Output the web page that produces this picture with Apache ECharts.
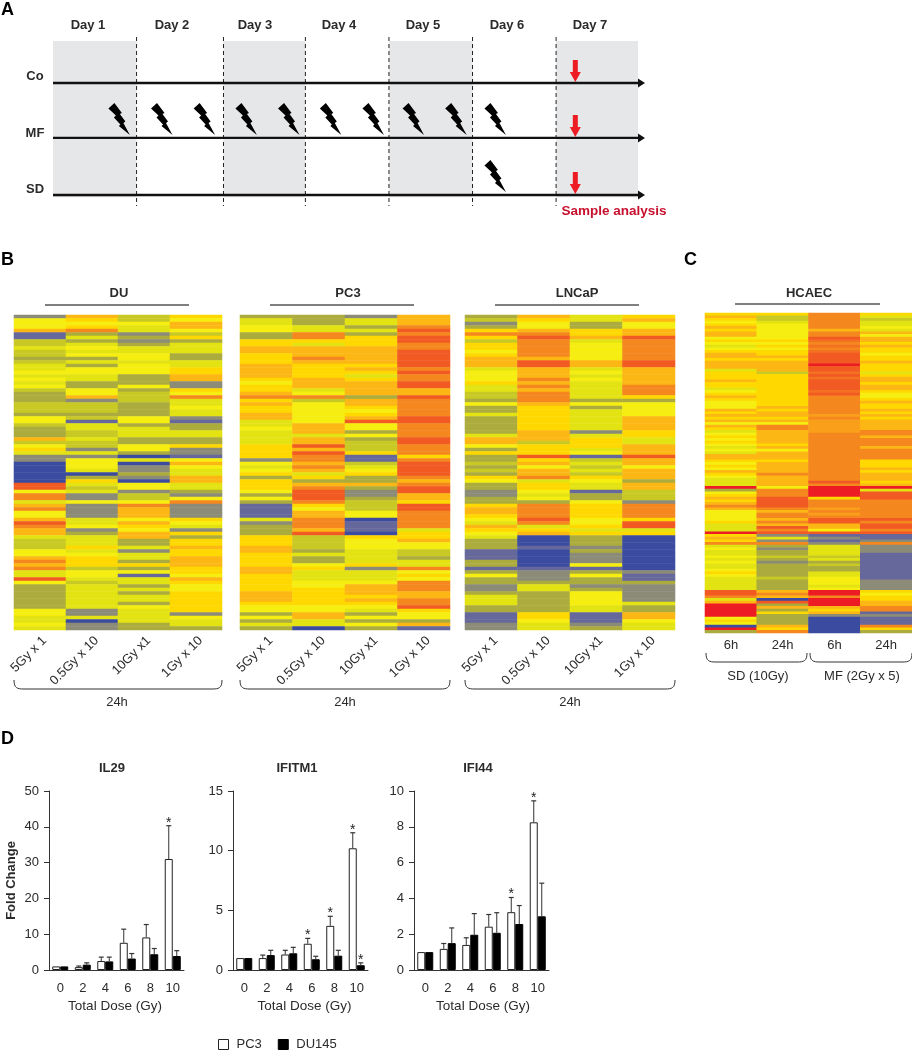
<!DOCTYPE html>
<html>
<head>
<meta charset="utf-8">
<style>html,body{margin:0;padding:0;background:#fff}#c{width:912px;height:1050px;filter:blur(0.55px)}</style>
<script src="https://cdn.jsdelivr.net/npm/echarts@6/dist/echarts.min.js"></script>
</head>
<body>
<div id="c"></div>
<script>
// ---------- Panel A (schedule, in days / arms) ----------
const days = ['Day 1','Day 2','Day 3','Day 4','Day 5','Day 6','Day 7'];
const arms = ['Co','MF','SD'];
const armLevels = [0,0.98,2];
const dayEdges = [1,2.04,3.02,4.02,5.02,6.02];
const grayBands = [[0,1],[2.04,3.02],[4.02,5.02],[6.02,7]];
const mfDoses = [0.92,1.43,1.94,2.44,2.95,3.45,3.96,4.44,4.95,5.42];
const sdDoses = [5.42];
const sampleDay = 6.25;

// ---------- Panels B, C (expression level codes per row) ----------
const heatStops = ['#3B4CA0','#66689B','#8B8B78','#ACAC3E','#C9C926','#E3E314','#F6EE10','#FFD800','#FDB714','#F5871F','#F15A22','#ED1C24'];
const bCols = ['5Gy x 1','0.5Gy x 10','10Gy x1','1Gy x 10'];
const cCols = ['6h','24h','6h ','24h '];

const duA = [2,6,6,6,8,1,1,4,4,5, 4,4,3,4,5,5,6,5,6,5, 6,4,3,3,3,4,4,4,3,6, 6,4,3,3,3,8,4,6,7,5, 2,2,0,0,0,0,0,0,10,10, 6,9,9,5,8,9,6,6,8,10, 9,8,8,5,4,4,4,6,6,8, 9,8,9,5,5,10,6,3,3,3, 3,3,3,3,6,6,5,5,6,5];
const duB = [8,7,6,7,9,3,5,3,5,6, 5,6,3,5,3,6,6,5,5,3, 3,6,6,8,2,4,4,4,3,4, 1,5,5,4,4,5,4,4,2,5, 2,6,6,6,5,0,3,7,5,4, 5,2,2,6,2,2,2,2,5,5, 6,2,3,5,5,5,7,5,6,7, 7,7,4,6,6,5,4,5,5,5, 5,5,5,5,2,2,5,0,2,2];
const duC = [4,4,6,5,5,2,3,2,3,5, 5,6,6,5,6,6,6,3,3,3, 6,3,4,4,4,3,3,3,3,6, 6,3,5,5,5,3,3,6,6,3, 0,5,0,2,2,3,2,0,6,6, 2,4,4,6,9,8,8,8,6,8, 7,6,8,8,3,3,5,2,5,5, 3,7,3,6,1,5,5,3,5,3, 5,5,3,6,5,5,5,5,3,3];
const duD = [7,6,8,8,6,4,7,3,5,5, 5,3,3,5,5,7,7,8,8,2, 2,7,6,9,5,5,6,5,5,2, 1,3,3,5,5,3,3,7,2,2, 1,6,8,6,5,5,8,8,5,5, 3,2,6,9,2,2,2,2,7,6, 5,2,7,3,7,7,8,7,7,8, 8,8,7,7,6,8,7,6,6,7, 7,7,7,7,7,2,6,5,5,3];

const pcA = [3,5,5,6,6,3,3,7,7,8, 8,7,7,7,8,8,8,8,7,6, 7,7,8,9,7,8,7,7,8,8, 5,5,6,5,5,5,5,7,7,7, 7,2,6,5,6,7,3,7,7,7, 6,3,6,3,1,1,1,1,5,2, 3,3,3,7,7,7,8,8,7,7, 7,7,8,8,7,7,7,7,7,8, 8,8,7,6,6,3,6,3,5,3];
const pcB = [3,3,3,5,5,9,9,7,5,8, 8,8,9,8,7,7,7,7,8,8, 8,5,6,9,4,6,6,6,6,6, 6,8,8,8,5,8,8,10,8,10, 9,9,8,9,8,5,7,3,8,9, 10,10,10,9,7,6,8,8,9,9, 9,8,10,4,4,4,4,3,5,3, 3,6,7,5,5,5,6,6,7,7, 7,7,7,6,6,8,8,5,5,0];
const pcC = [2,5,5,3,5,3,7,7,7,8, 8,8,8,8,7,8,7,5,7,8, 8,8,8,3,8,8,7,6,7,8, 10,6,6,3,6,3,4,4,4,7, 1,1,4,5,6,7,3,3,8,3, 2,2,3,4,4,4,6,6,0,1, 1,1,0,7,6,6,6,5,5,5, 5,7,2,5,5,5,6,8,8,8, 7,8,7,6,5,3,6,3,6,3];
const pcD = [8,8,8,9,10,9,10,10,9,9, 10,10,10,10,10,9,10,9,9,10, 10,8,8,10,9,9,9,9,9,10, 10,9,9,9,9,10,10,9,9,9, 7,9,10,10,10,10,9,8,9,10, 10,8,8,7,10,10,9,9,9,9, 9,5,7,7,8,6,6,4,4,3, 5,5,9,6,7,6,9,9,9,8, 8,9,9,10,7,6,6,3,8,1];

const lnA = [3,4,2,3,7,9,7,4,7,7, 6,7,8,8,8,5,6,6,6,7, 5,5,4,4,3,6,3,3,5,3, 3,3,3,3,5,8,8,6,3,7, 3,3,4,3,4,3,7,6,3,3, 2,2,3,3,7,8,8,7,6,5, 8,7,6,5,3,3,3,1,1,1, 3,3,1,3,6,3,3,2,2,3, 5,5,5,3,3,1,1,1,2,2];
const lnB = [8,7,6,6,8,9,10,9,9,9, 9,9,8,10,10,8,8,8,9,8, 9,8,9,9,9,8,7,7,7,7, 7,7,7,8,8,8,4,7,7,7, 10,7,8,6,8,8,9,5,7,7, 6,5,6,3,9,9,9,9,10,9, 5,7,8,0,0,0,1,0,0,0, 0,0,1,2,2,2,3,5,5,3, 3,3,3,3,3,7,7,6,5,5];
const lnC = [5,5,3,3,7,7,8,5,6,6, 6,6,6,8,8,5,6,5,6,5, 5,5,5,5,3,6,3,5,5,5, 5,5,5,2,5,7,7,7,5,6, 1,4,5,4,5,4,7,6,5,5, 1,3,3,6,7,7,7,7,6,6, 7,5,7,3,3,3,2,3,2,2, 2,6,1,3,6,3,3,2,3,6, 6,6,6,5,5,1,1,1,2,3];
const lnD = [7,8,6,6,8,8,10,9,9,9, 9,9,9,10,10,8,8,8,8,8, 9,9,9,7,3,6,6,6,6,8, 8,8,8,7,7,5,5,8,8,8, 10,8,8,6,8,8,8,3,8,8, 4,4,4,2,9,9,9,9,7,10, 10,5,7,0,0,0,0,0,0,0, 0,0,0,2,1,1,3,2,2,2, 2,2,5,3,3,8,8,6,5,5];

const hcA = [7,8,7,6,7,8,7,8,8,6, 7,6,5,6,7,8,8,7,8,8, 8,5,7,7,7,8,7,7,5,6, 7,8,7,6,6,6,8,7,8,7, 8,6,8,7,5,6,7,6,7,6, 5,6,5,8,8,7,6,7,6,8, 7,6,5,5,5,11,3,6,7,8, 7,8,9,8,6,6,6,6,7,5, 5,5,11,7,8,7,9,5,6,5, 5,6,5,6,5,5,6,7,6,5, 5,5,5,5,10,10,9,5,8,11, 11,11,11,11,6,7,6,0,11,3];
const hcB = [7,4,4,5,6,6,6,6,6,6, 7,6,7,6,7,7,8,7,8,8, 8,8,4,7,7,7,7,7,7,7, 7,7,7,7,7,8,7,8,8,7, 8,6,9,9,8,8,8,8,8,7, 8,6,8,8,8,7,8,8,8,8, 9,8,8,8,8,6,9,9,9,10, 10,10,10,9,8,9,9,8,9,8, 10,9,10,2,5,2,9,3,2,3, 3,4,3,2,3,3,3,3,3,4, 3,3,3,3,8,9,8,0,10,3, 8,3,7,3,3,3,3,8,7,9];
const hcC = [9,9,9,9,9,9,8,9,9,10, 9.5,9,9.5,9,9.5,10,10,10,10,11, 10,10,9.5,10,9.5,10,10,10,10,9.5, 10,9,9,9,9,9,9,9,8.5,9, 8.5,8.5,8.5,8.5,8.5,9,9,9,9,9, 9,9,9,9,9,9,9,9,9,9, 9,9,9,10,9,11,11,11,11,7, 9,9,9,8.5,9,8.5,9,10,10,8, 8,6,10,1,2,1,2,5,5,5, 5,4,5,3,4,3,3,5,5,6, 6,6,5,6,11,11,9,11,11,11, 8,7,8,2,0,0,0,0,0,0];
const hcD = [7,5,4,5,5,6,5,8,6,8, 8,7,8,7,7,6,7,7,8,7, 7,7,5,7,8,8,7,8,8,7, 6,6,7,8,7,7,8,7,8,7, 8,8,8,8,9,9,8,9,9,9, 8,9,9,9,9,7,7,7,8,7, 8,8,8,7,8,11,5,10,10,10, 9,9,9,9,9,9,9,10,9,10, 10,9,10,1,1,2,9,2,2,2, 1,1,1,1,1,1,1,1,1,1, 2,2,2,2,7,6,7,7,8,8, 9,9,1,2,1,1,1,9,7,3];

// ---------- Panel D ----------
const doses = ['0','2','4','6','8','10'];
const il29Pc3  = [1.0,0.8,2.5,7.6,9.1,31];
const il29Pc3Top = [1.0,1.1,3.6,11.4,12.7,40.3];
const il29Du  = [1.0,1.5,2.4,3.2,4.4,3.9];
const il29DuTop = [1.0,2.0,3.6,4.6,6.0,5.4];
const il29Pc3Star = [0,0,0,0,0,1];
const il29DuStar = [0,0,0,0,0,0];
const ifitmPc3 = [1.0,1.0,1.3,2.2,3.7,10.2];
const ifitmPc3Top = [1.0,1.25,1.65,2.65,4.5,11.5];
const ifitmDu = [1.0,1.25,1.4,0.9,1.2,0.4];
const ifitmDuTop = [1.0,1.65,1.9,1.15,1.65,0.6];
const ifitmPc3Star = [0,0,0,1,1,1];
const ifitmDuStar = [0,0,0,0,0,1];
const ifiPc3 = [1.0,1.18,1.4,2.42,3.23,8.25];
const ifiPc3Top = [1.0,1.48,1.8,3.1,4.05,9.45];
const ifiDu = [1.0,1.5,1.97,2.08,2.57,3.0];
const ifiDuTop = [1.0,2.35,3.15,3.2,3.6,4.85];
const ifiPc3Star = [0,0,0,0,1,1];
const ifiDuStar = [0,0,0,0,0,0];

const FF = '"Liberation Sans", Arial, sans-serif';
const TXT = '#2b2b2b';

const grid = [], xAxis = [], yAxis = [], series = [], graphic = [];

function addText(text,x,y,o){
  o=o||{};
  graphic.push({type:'text',x:x,y:y,rotation:o.rot||0,silent:true,z:50,style:{text:text,fontFamily:FF,fontSize:o.size||13,fontWeight:o.bold?'bold':'normal',fill:o.fill||TXT,align:o.align||'center',verticalAlign:'middle'}});
}
function addRule(x1,x2,y){
  graphic.push({type:'line',silent:true,z:50,shape:{x1:x1,y1:y,x2:x2,y2:y},style:{stroke:'#555',lineWidth:1.4}});
}
function addBracket(x1,x2,yTop,yBot){
  const r=10, s={stroke:'#333',lineWidth:1,fill:'none'};
  graphic.push({type:'bezierCurve',silent:true,z:50,shape:{x1:x1,y1:yTop,cpx1:x1,cpy1:yBot-1,cpx2:x1+3,cpy2:yBot,x2:x1+r,y2:yBot},style:s});
  graphic.push({type:'line',silent:true,z:50,shape:{x1:x1+r,y1:yBot,x2:x2-r,y2:yBot},style:{stroke:'#333',lineWidth:1}});
  graphic.push({type:'bezierCurve',silent:true,z:50,shape:{x1:x2-r,y1:yBot,cpx1:x2-3,cpy1:yBot,cpx2:x2,cpy2:yBot-1,x2:x2,y2:yTop},style:s});
}

// ----- Panel A -----
(function(){
  const left=53, right=645, top=37, bottom=206;
  const pxPerDay=(638-53)/7, yPerArm=56, y0=83;
  grid.push({left:left,top:top,width:right-left,height:bottom-top,outerBoundsMode:'none'});
  xAxis.push({type:'value',gridIndex:0,min:0,max:(right-left)/pxPerDay,show:false});
  yAxis.push({type:'value',gridIndex:0,min:(top-y0)/yPerArm,max:(bottom-y0)/yPerArm,inverse:true,show:false});
  const yMin=(top-y0)/yPerArm, yMax=(bottom-y0)/yPerArm;
  const base={type:'custom',coordinateSystem:'cartesian2d',xAxisIndex:0,yAxisIndex:0,silent:true,animation:false,clip:false};
  series.push(Object.assign({},base,{z:1,data:grayBands,encode:{x:[0,1]},renderItem:function(p,api){
    const a=api.coord([api.value(0),-0.75]), b=api.coord([api.value(1),2.04]);
    return {type:'rect',shape:{x:a[0],y:a[1],width:b[0]-a[0],height:b[1]-a[1]},style:{fill:'#E6E7E8'}};
  }}));
  series.push(Object.assign({},base,{z:2,data:dayEdges.map(d=>[d]),encode:{x:0},renderItem:function(p,api){
    const a=api.coord([api.value(0),yMin]), b=api.coord([api.value(0),yMax]);
    return {type:'line',shape:{x1:a[0],y1:a[1],x2:b[0],y2:b[1]},style:{stroke:'#222',lineWidth:1,lineDash:[4,3]}};
  }}));
  series.push(Object.assign({},base,{z:3,data:armLevels.map(v=>[7,v]),encode:{x:0,y:1},renderItem:function(p,api){
    const a=api.coord([0,api.value(1)]), b=api.coord([api.value(0),api.value(1)]);
    const tip=[b[0]+7,b[1]];
    return {type:'group',children:[
      {type:'line',shape:{x1:a[0],y1:a[1],x2:tip[0]-4,y2:a[1]},style:{stroke:'#111',lineWidth:2.4}},
      {type:'polygon',shape:{points:[[tip[0],tip[1]],[tip[0]-7,tip[1]-4.5],[tip[0]-7,tip[1]+4.5]]},style:{fill:'#111'}}
    ]};
  }}));
  const boltShape=[[-21.5,-26.5],[-15.5,-32],[-8,-22],[-10,-21],[-4.5,-13.5],[-6.5,-12],[0,0],[-11,-9],[-9.5,-10.5],[-16,-17.5],[-14,-19.5]];
  const boltData=mfDoses.map(d=>[d,armLevels[1]]).concat(sdDoses.map(d=>[d,armLevels[2]]));
  series.push(Object.assign({},base,{z:4,data:boltData,encode:{x:0,y:1},renderItem:function(p,api){
    const c=api.coord([api.value(0),api.value(1)]);
    const tx=c[0], ty=c[1]-3;
    return {type:'polygon',shape:{points:boltShape.map(q=>[tx+q[0],ty+q[1]])},style:{fill:'#000'}};
  }}));
  series.push(Object.assign({},base,{z:5,data:armLevels.map(v=>[sampleDay,v]),encode:{x:0,y:1},renderItem:function(p,api){
    const c=api.coord([api.value(0),api.value(1)]);
    const x=c[0], tip=c[1]-1;
    return {type:'polygon',shape:{points:[[x,tip],[x-5.5,tip-10],[x-2.5,tip-10],[x-2.5,tip-22],[x+2.5,tip-22],[x+2.5,tip-10],[x+5.5,tip-10]]},style:{fill:'#ED1C24'}};
  }}));
  const dayX=[88,172,255,339,423,507,590];
  days.forEach((d,i)=>addText(d,dayX[i],25,{bold:true}));
  const armY=[76,133,189];
  arms.forEach((a,i)=>addText(a,35,armY[i],{bold:true}));
  addText('Sample analysis',614,211,{bold:true,fill:'#C8102E',size:13.5});
})();

// ----- Panels B, C -----
const heatPanels=[
  {title:'DU',cx:119,rule:[45,189],x:14,w:208,top:315,h:315,cols:[duA,duB,duC,duD],names:bCols,rot:45},
  {title:'PC3',cx:348,rule:[270,414],x:240,w:210,top:315,h:315,cols:[pcA,pcB,pcC,pcD],names:bCols,rot:45},
  {title:'LNCaP',cx:577,rule:[495,639],x:465,w:210,top:315,h:315,cols:[lnA,lnB,lnC,lnD],names:bCols,rot:45},
  {title:'HCAEC',cx:809,rule:[735,880],x:705,w:207,top:313,h:320,cols:[hcA,hcB,hcC,hcD],names:cCols,rot:0}
];
const heatSeriesIdx=[];
heatPanels.forEach(function(p){
  const gi=grid.length;
  grid.push({left:p.x,top:p.top,width:p.w,height:p.h,outerBoundsMode:'none'});
  xAxis.push({type:'category',gridIndex:gi,data:p.names,axisLine:{show:false},axisTick:{show:false},splitLine:{show:false},
    axisLabel:p.rot
      ?{rotate:p.rot,margin:4,verticalAlign:'top',fontFamily:FF,fontSize:13,color:TXT,interval:0}
      :{margin:6,fontFamily:FF,fontSize:13,color:TXT,interval:0,formatter:v=>v.trim()}});
  yAxis.push({type:'category',gridIndex:gi,data:p.cols[0].map((v,i)=>i),inverse:true,show:false});
  const data=[];
  p.cols.forEach((col,c)=>col.forEach((v,r)=>data.push([c,r,v])));
  heatSeriesIdx.push(series.length);
  series.push({type:'heatmap',xAxisIndex:gi,yAxisIndex:gi,data:data,silent:true,animation:false,progressive:0,itemStyle:{borderWidth:0}});
  addText(p.title,p.cx,293,{bold:true});
  addRule(p.rule[0],p.rule[1],p.title==='HCAEC'?304:305);
});
[[14,222,117],[240,450,345],[465,675,570]].forEach(function(b){
  addBracket(b[0],b[1],680,689);
  addText('24h',b[2],702);
});
addBracket(706,807,653,662);
addBracket(810,912,653,662);
addText('SD (10Gy)',758,676);
addText('MF (2Gy x 5)',862,676);

// ----- Panel D -----
const barPanels=[
  {title:'IL29',tx:112,left:49,max:50,step:10,pad:[0,3,0,0],a:il29Pc3,aTop:il29Pc3Top,aStar:il29Pc3Star,b:il29Du,bTop:il29DuTop,bStar:il29DuStar,yName:'Fold Change'},
  {title:'IFITM1',tx:297,left:233,max:15,step:5,pad:[0,0,0,8],a:ifitmPc3,aTop:ifitmPc3Top,aStar:ifitmPc3Star,b:ifitmDu,bTop:ifitmDuTop,bStar:ifitmDuStar},
  {title:'IFI44',tx:478,left:414,max:10,step:2,pad:[0,0,0,3],a:ifiPc3,aTop:ifiPc3Top,aStar:ifiPc3Star,b:ifiDu,bTop:ifiDuTop,bStar:ifiDuStar}
];
function errorSeries(gi,vals,tops,stars,sign){
  return {type:'custom',coordinateSystem:'cartesian2d',xAxisIndex:gi,yAxisIndex:gi,silent:true,animation:false,z:6,
    data:vals.map((v,i)=>[i,v,tops[i],stars[i]]),encode:{x:0,y:[1,2]},
    renderItem:function(p,api){
      const c=api.coord([api.value(0),api.value(1)]), t=api.coord([api.value(0),api.value(2)]);
      const x=c[0]+sign*4;
      const kids=[];
      if(api.value(2)>api.value(1)){
        kids.push({type:'line',shape:{x1:x,y1:c[1],x2:x,y2:t[1]},style:{stroke:'#333',lineWidth:1}});
        kids.push({type:'line',shape:{x1:x-2.5,y1:t[1],x2:x+2.5,y2:t[1]},style:{stroke:'#333',lineWidth:1.2}});
      }
      if(api.value(3)){
        kids.push({type:'text',x:x,y:t[1]-10,style:{text:'*',fontFamily:FF,fontSize:14,fill:'#222',align:'center',verticalAlign:'top'}});
      }
      return {type:'group',children:kids};
    }};
}
barPanels.forEach(function(p){
  const gi=grid.length;
  grid.push({left:p.left,top:791,width:135,height:179,outerBoundsMode:'none'});
  xAxis.push({type:'category',gridIndex:gi,data:doses,name:'Total Dose (Gy)',nameLocation:'middle',nameGap:29,nameMoveOverlap:false,
    nameTextStyle:{fontFamily:FF,fontSize:13.5,color:TXT,padding:p.pad},
    axisLine:{lineStyle:{color:'#333',width:1}},axisTick:{alignWithLabel:true,length:4,lineStyle:{color:'#333'}},
    axisLabel:{fontFamily:FF,fontSize:13,color:TXT,margin:12,interval:0},splitLine:{show:false}});
  yAxis.push({type:'value',gridIndex:gi,min:0,max:p.max,interval:p.step,
    name:p.yName||'',nameLocation:'middle',nameGap:31,nameMoveOverlap:false,nameTextStyle:{fontFamily:FF,fontSize:13,fontWeight:'bold',color:TXT},
    axisLine:{show:true,lineStyle:{color:'#333',width:1}},axisTick:{show:true,length:5,lineStyle:{color:'#333'}},
    axisLabel:{fontFamily:FF,fontSize:13,color:TXT,margin:10},splitLine:{show:false}});
  series.push({name:'PC3',type:'bar',xAxisIndex:gi,yAxisIndex:gi,data:p.a,barWidth:8,barGap:0,silent:true,animation:false,
    itemStyle:{color:'#fff',borderColor:'#222',borderWidth:1}});
  series.push({name:'DU145',type:'bar',xAxisIndex:gi,yAxisIndex:gi,data:p.b,barWidth:8,barGap:0,silent:true,animation:false,
    itemStyle:{color:'#000',borderColor:'#000',borderWidth:1}});
  series.push(errorSeries(gi,p.a,p.aTop,p.aStar,-1));
  series.push(errorSeries(gi,p.b,p.bTop,p.bStar,1));
  addText(p.title,p.tx,768,{bold:true});
});

// ----- Panel letters -----
addText('A',1,10,{bold:true,size:18,align:'left',fill:'#000'});
addText('B',1,260,{bold:true,size:18,align:'left',fill:'#000'});
addText('C',684,260,{bold:true,size:18,align:'left',fill:'#000'});
addText('D',1,739,{bold:true,size:18,align:'left',fill:'#000'});

const chart=echarts.init(document.getElementById('c'),null,{width:912,height:1050});
chart.setOption({
  animation:false,
  backgroundColor:'#fff',
  textStyle:{fontFamily:FF},
  grid:grid,xAxis:xAxis,yAxis:yAxis,series:series,graphic:graphic,
  visualMap:{type:'continuous',show:false,min:0,max:heatStops.length-1,dimension:2,seriesIndex:heatSeriesIdx,inRange:{color:heatStops}},
  legend:{left:213,top:1033,icon:'rect',itemWidth:10,itemHeight:10,itemGap:16,selectedMode:false,data:['PC3','DU145'],
    itemStyle:{borderWidth:1},
    textStyle:{fontFamily:FF,fontSize:13,color:TXT,padding:[0,0,0,3]}}
});
</script>
</body>
</html>
